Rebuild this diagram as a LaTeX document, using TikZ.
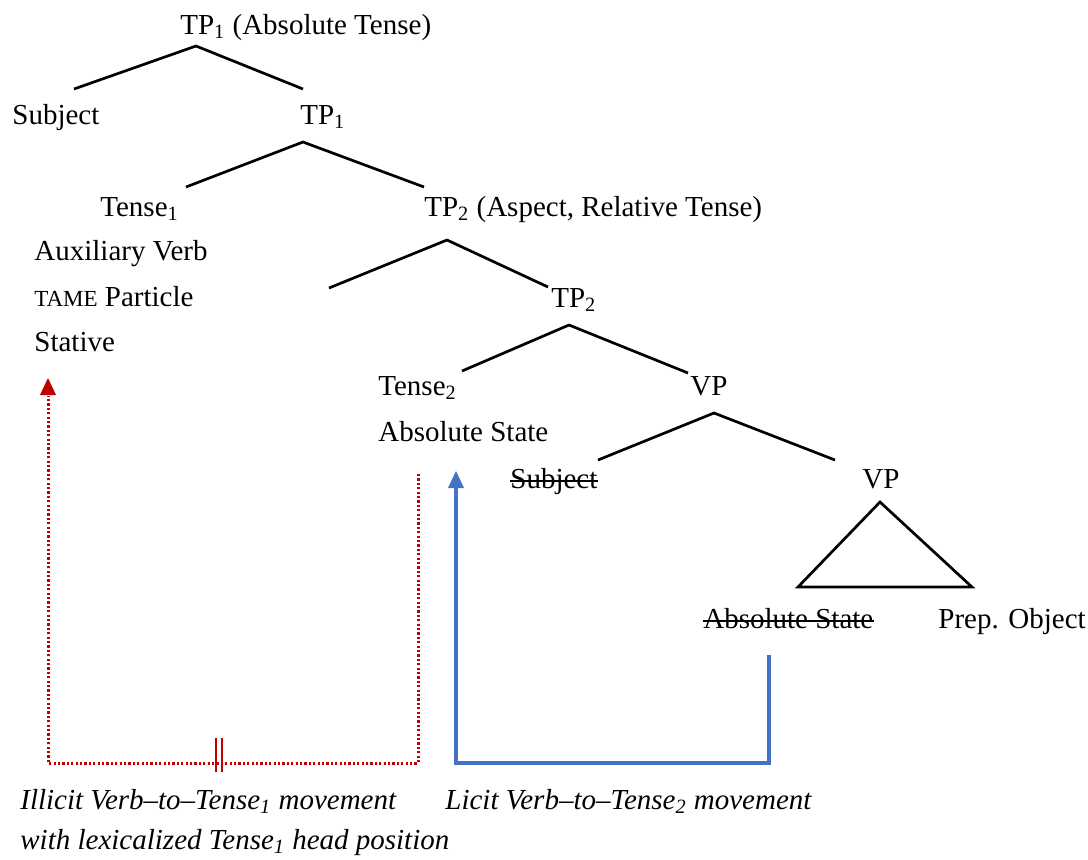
\documentclass[tikz,border=0pt]{standalone}
\usepackage{fontspec}
\setmainfont{Liberation Serif}
\usetikzlibrary{arrows.meta}
\definecolor{illicitred}{RGB}{192,0,0}
\definecolor{licitblue}{RGB}{68,114,196}
\newcommand{\tsub}[1]{\textsubscript{#1}}
\newcommand{\tame}{{\fontsize{11.5}{14}\selectfont TAME}}

\begin{document}
\begin{tikzpicture}[x=0.5pt,y=-0.5pt,
    every node/.style={font=\fontsize{14.5}{17}\selectfont, inner sep=0pt, anchor=base west},
    branch/.style={line width=1.35pt, black},
    struck/.style={line width=0.9pt, black},
    illicit/.style={line width=1.5pt, illicitred, dash pattern=on 1.1pt off 1.1pt},
    licit/.style={line width=1.7pt, licitblue},
    gloss/.style={font=\fontsize{14.5}{17}\selectfont\itshape}]
    \useasboundingbox (0,0) rectangle (1088,859);

    % tree labels
    \node (tpOne) at (180,34) {TP\tsub{1} (Absolute Tense)};
    \node (subj) at (12,124) {Subject};
    \node (tpOneBar) at (300,124) {TP\tsub{1}};
    \node (tenseOne) at (100,216) {Tense\tsub{1}};
    \node (tpTwo) at (424,216) {TP\tsub{2} (Aspect, Relative Tense)};
    \node (aux) at (34,260) {Auxiliary Verb};
    \node (tameP) at (34,306) {\tame{} Particle};
    \node (stative) at (34,351) {Stative};
    \node (tpTwoBar) at (551,307) {TP\tsub{2}};
    \node (tenseTwo) at (378,395) {Tense\tsub{2}};
    \node (vp) at (690,395) {VP};
    \node (absState) at (378,441) {Absolute State};
    \node (subjCopy) at (510,488) {Subject};
    \node (vpBar) at (862,488) {VP};
    \node (absCopy) at (703,628) {Absolute State};
    \node (prepObj) at (938,628) {Prep. Object};
    % deleted copies
    \draw[struck] ([yshift=3.6pt]subjCopy.base west) -- ([yshift=3.6pt]subjCopy.base east);
    \draw[struck] ([yshift=3.6pt]absCopy.base west) -- ([yshift=3.6pt]absCopy.base east);

    % branch points
    \coordinate (apexA) at (196,46);
    \coordinate (apexB) at (303,142);
    \coordinate (apexC) at (447,240);
    \coordinate (apexD) at (569,325);
    \coordinate (apexE) at (714,413);
    \coordinate (apexF) at (880,502);
    \coordinate (legA1) at (74,89);   \coordinate (legA2) at (303,89);
    \coordinate (legB1) at (186,187); \coordinate (legB2) at (424,187);
    \coordinate (legC1) at (329,288); \coordinate (legC2) at (548,287);
    \coordinate (legD1) at (462,371); \coordinate (legD2) at (688,373);
    \coordinate (legE1) at (598,460); \coordinate (legE2) at (835,460);
    \coordinate (triL) at (798,587);  \coordinate (triR) at (972,587);

    \draw[branch] (legA1) -- (apexA) -- (legA2);
    \draw[branch] (legB1) -- (apexB) -- (legB2);
    \draw[branch] (legC1) -- (apexC) -- (legC2);
    \draw[branch] (legD1) -- (apexD) -- (legD2);
    \draw[branch] (legE1) -- (apexE) -- (legE2);
    \draw[branch, line join=miter] (apexF) -- (triL) -- (triR) -- cycle;

    % movement arrows
    \coordinate (moveBase) at (0,763);
    \coordinate (illicitFrom) at (418,474);
    \coordinate (illicitTo) at (48,380);
    \coordinate (licitFrom) at (769,655);
    \coordinate (licitTo) at (456,473);
    \draw[illicit] (illicitFrom) -- (illicitFrom |- moveBase) -| ([yshift=-8pt]illicitTo);
    \fill[illicitred] (illicitTo) ++(-8,15) -- ++(16,0) -- ++(-8,-17) -- cycle;
    \draw[licit] (licitFrom) -- (licitFrom |- moveBase) -| ([yshift=-7pt]licitTo);
    \fill[licitblue] (licitTo) ++(-8,15) -- ++(16,0) -- ++(-8,-17) -- cycle;
    % blocked movement mark
    \coordinate (block) at (219,755);
    \draw[illicitred, line width=1.1pt] (block) ++(-3,-17) -- ++(0,34)
        (block) ++(3,-17) -- ++(0,34);

    % glosses
    \node[gloss] (illicitNote) at (20,809) {Illicit Verb--to--Tense\tsub{1} movement};
    \node[gloss] (illicitNote2) at (20,849) {with lexicalized Tense\tsub{1} head position};
    \node[gloss] (licitNote) at (445,809) {Licit Verb--to--Tense\tsub{2} movement};
\end{tikzpicture}
\end{document}
